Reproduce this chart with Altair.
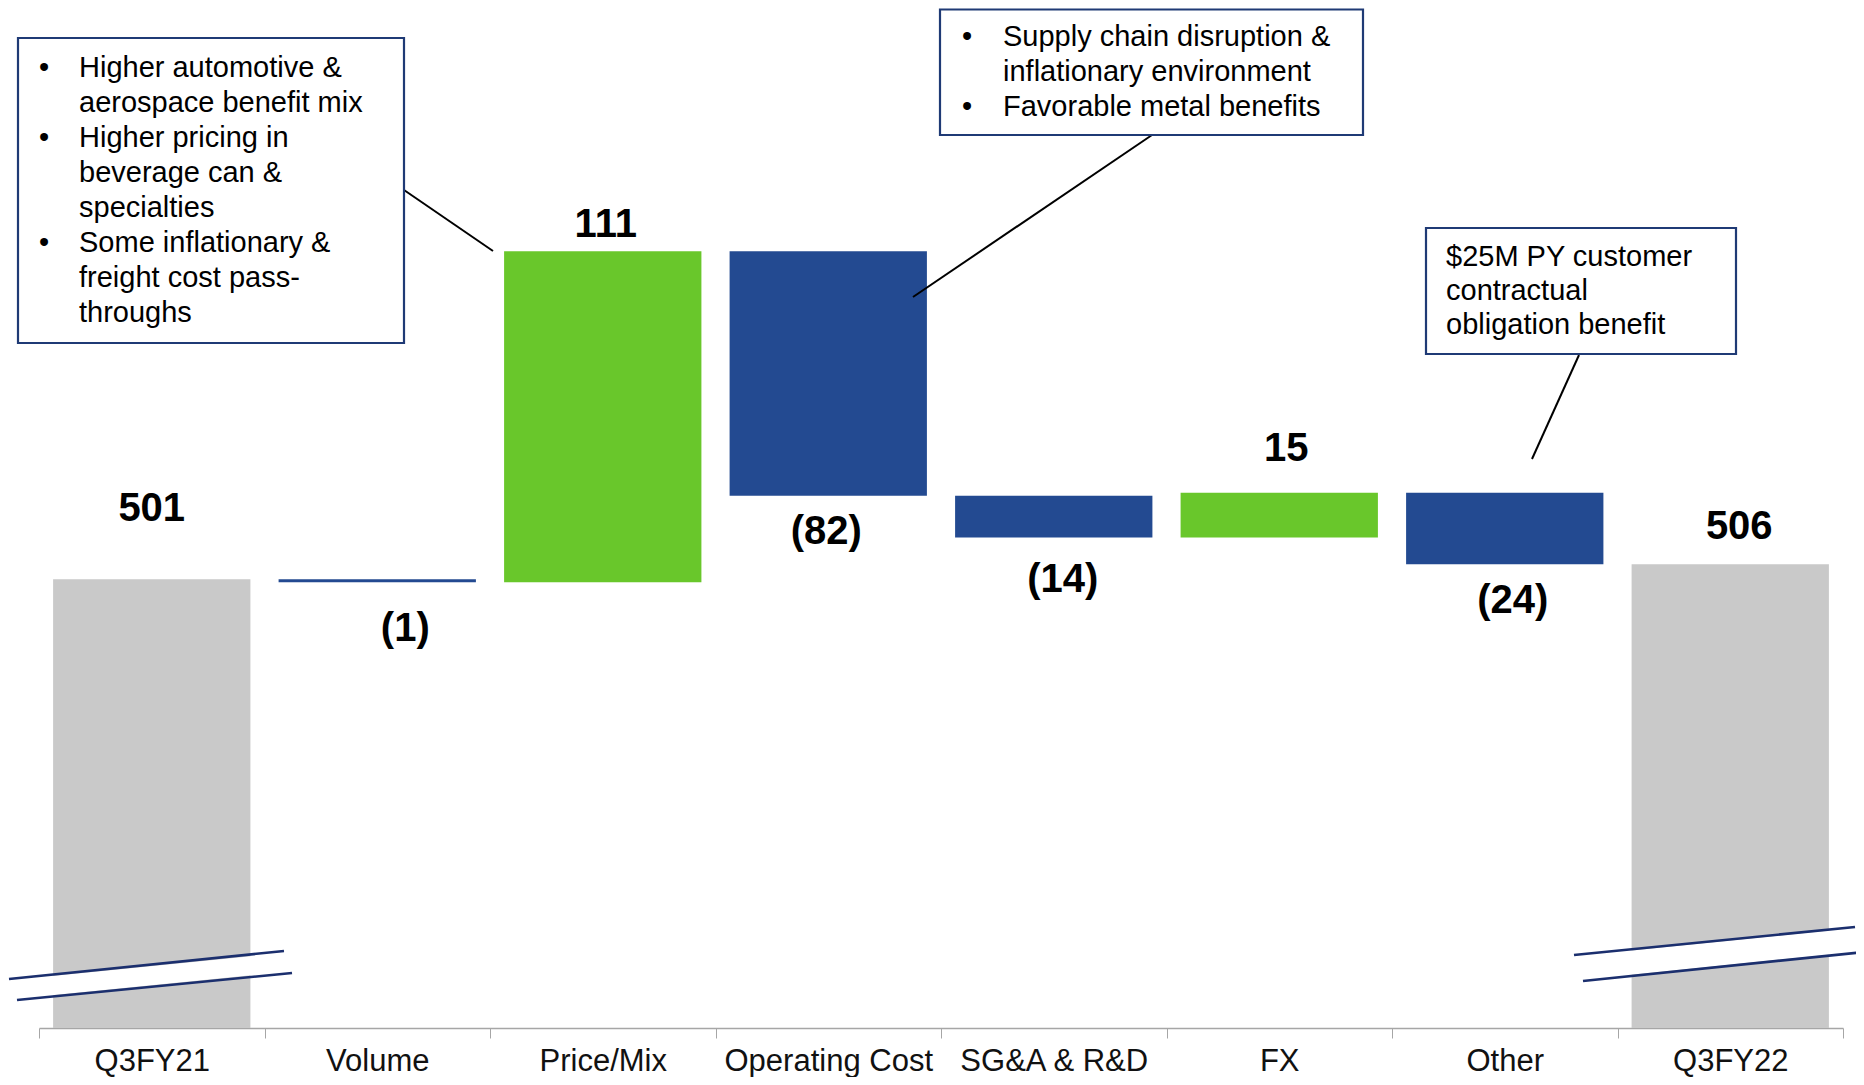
import altair as alt
import pandas as pd

# ---------------- data ----------------
categories = ["Q3FY21", "Volume", "Price/Mix", "Operating Cost",
              "SG&A & R&D", "FX", "Other", "Q3FY22"]
values = [501, -1, 111, -82, -14, 15, -24, 506]
kinds = ["total", "delta", "delta", "delta", "delta", "delta", "delta", "total"]

box1_items = [
    ["Higher automotive &", "aerospace benefit mix"],
    ["Higher pricing in", "beverage can &", "specialties"],
    ["Some inflationary &", "freight cost pass-", "throughs"],
]
box2_items = [
    ["Supply chain disruption &", "inflationary environment"],
    ["Favorable metal benefits"],
]
box3_lines = ["$25M PY customer", "contractual", "obligation benefit"]

# broken value axis
AXIS_MIN = 350.5
AXIS_MAX = 691.2

GREY = "#C9C9C9"
GREEN = "#69C72B"
NAVY = "#234A91"
BOX_NAVY = "#1F3A75"
BREAK_NAVY = "#1B2F6E"
FONT = "Liberation Sans"

# ---------------- waterfall table ----------------
rows = []
running = 0
for cat, v, k in zip(categories, values, kinds):
    if k == "total":
        start, end = AXIS_MIN, v
        running = v
        kind = "total"
    else:
        start, end = running, running + v
        running = end
        kind = "up" if v > 0 else "down"
    label = f"{v}" if v >= 0 else f"({abs(v)})"
    anchor = min(start, end) if kind == "down" else max(start, end)
    rows.append(dict(cat=cat, start=start, end=end, kind=kind,
                     label=label, anchor=anchor))
df = pd.DataFrame(rows)
one = pd.DataFrame({"k": [0]})

W, H = 1804, 1016
X0, Y0 = 39, 12  # page position of the plot origin


def px(x):
    return x - X0


def py(y):
    return y - Y0


xenc = alt.X("cat:N", sort=categories, title=None,
             scale=alt.Scale(paddingInner=0, paddingOuter=0),
             axis=alt.Axis(labelAngle=0, labelFont=FONT, labelFontSize=31,
                           labelColor="#111111", labelLimit=500,
                           tickBand="extent",
                           tickSize=10, tickColor="#A6A6A6",
                           domainColor="#A6A6A6", domainWidth=1.5,
                           labelPadding=8, grid=False))
yscale = alt.Scale(domain=[AXIS_MIN, AXIS_MAX], nice=False, zero=False)

base = alt.Chart(df)

bars = base.mark_bar(width=alt.RelativeBandSize(0.875)).encode(
    x=xenc,
    y=alt.Y("start:Q", scale=yscale, axis=None),
    y2="end:Q",
    color=alt.Color("kind:N", legend=None,
                    scale=alt.Scale(domain=["total", "up", "down"],
                                    range=[GREY, GREEN, NAVY])),
)

# label nudges (dx, dy) in pixels, as placed on the slide
NUDGE = {"Q3FY21": (0, -70), "Volume": (28, 47), "Price/Mix": (3, -26),
         "Operating Cost": (-2, 36), "SG&A & R&D": (9, 43), "FX": (7, -44),
         "Other": (8, 37), "Q3FY22": (9, -37)}

labels = []
for cat in categories:
    dx, dy = NUDGE[cat]
    labels.append(
        base.transform_filter(alt.datum.cat == cat).mark_text(
            font=FONT, fontWeight="bold", fontSize=40, baseline="middle",
            align="center", dx=dx, dy=dy, color="#000000"
        ).encode(
            x=alt.X("cat:N", sort=categories),
            y=alt.Y("anchor:Q", scale=yscale),
            text="label:N",
        )
    )


def seg(x1, y1, x2, y2, color, width, cap="butt"):
    return alt.Chart(one).mark_rule(color=color, strokeWidth=width,
                                    strokeCap=cap).encode(
        x=alt.value(px(x1)), y=alt.value(py(y1)),
        x2=alt.value(px(x2)), y2=alt.value(py(y2)))


def box(x1, y1, x2, y2):
    return alt.Chart(one).mark_rect(fill="white", stroke=BOX_NAVY,
                                    strokeWidth=2.2).encode(
        x=alt.value(px(x1)), y=alt.value(py(y1)),
        x2=alt.value(px(x2)), y2=alt.value(py(y2)))


def lines_text(x, y, lines, lh=35):
    return alt.Chart(one).mark_text(
        text=lines, align="left", baseline="alphabetic", font=FONT,
        fontSize=29, lineHeight=lh, color="#000000"
    ).encode(x=alt.value(px(x)), y=alt.value(py(y)))


def bullet(x, y):
    return alt.Chart(one).mark_text(
        text="•", align="center", baseline="alphabetic", font=FONT,
        fontSize=29, color="#000000"
    ).encode(x=alt.value(px(x)), y=alt.value(py(y)))


def bullet_box(bx, tx, y0, items, lh=35):
    layers = []
    line = 0
    for item in items:
        layers.append(bullet(bx, y0 + line * lh))
        layers.append(lines_text(tx, y0 + line * lh, item, lh))
        line += len(item)
    return layers


# axis-break marks
breaks = [
    seg(13, 989.5, 288, 962, "white", 19),
    seg(9, 979, 284, 951, BREAK_NAVY, 2.6),
    seg(17, 1000, 292, 973, BREAK_NAVY, 2.6),
    seg(1578.5, 968, 1859.5, 939.5, "white", 24),
    seg(1574, 955, 1855, 927, BREAK_NAVY, 2.6),
    seg(1583, 981, 1864, 952, BREAK_NAVY, 2.6),
]

leaders = [
    seg(404, 190, 493, 251, "#000000", 2),
    seg(1152, 135, 913, 297, "#000000", 2),
    seg(1579, 355, 1532, 459, "#000000", 2),
]

boxes = [box(18, 38, 404, 343)] + bullet_box(44, 79, 77, box1_items)
boxes += [box(940, 9.5, 1363, 135)] + bullet_box(967, 1003, 46, box2_items)
boxes += [box(1426, 228, 1736, 354), lines_text(1446, 266, box3_lines, 34)]

chart = alt.layer(bars, *labels, *breaks, *leaders, *boxes).properties(
    width=W, height=H,
    padding={"left": 31, "top": 4, "right": 13, "bottom": 49},
    autosize=alt.AutoSizeParams(type="none"),
    background="white",
).configure_view(stroke=None)

chart.save("out.html", embed_options={"renderer": "svg", "actions": False})
